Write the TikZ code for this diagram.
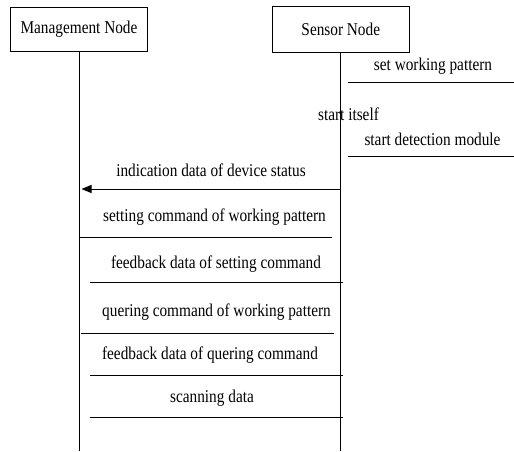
\documentclass[tikz,border=0pt]{standalone}
\usepackage{fontspec}
\setmainfont{Liberation Serif}[FakeStretch=0.85]
\usetikzlibrary{arrows.meta,positioning}

\begin{document}
\begin{tikzpicture}[x=1pt, y=-1pt,
  actor/.style={
    draw, rectangle, minimum width=137pt, minimum height=44pt,
    font=\fontsize{18}{20}\selectfont, line width=0.8pt
  },
  msgtext/.style={
    anchor=base, inner sep=0pt, font=\fontsize{18}{20}\selectfont
  },
  msgline/.style={line width=1pt},
  lifeline/.style={line width=0.8pt}
]

\useasboundingbox (0,0) rectangle (514,451);

% Participants
\node[actor] (mgmt) at (79,29) {Management Node};
\node[actor, right=124pt of mgmt, minimum height=46pt] (sensor) {Sensor Node};

% Lifelines
\coordinate (bottom) at (0,451);
\draw[lifeline] (mgmt.south) -- (mgmt.south |- bottom);
\draw[lifeline] (sensor.south) -- (sensor.south |- bottom);

% Message texts
\node[msgtext] (m1) at (433,70)    {set working pattern};
\node[msgtext] (m2) at (348.5,120) {start itself};
\node[msgtext] (m3) at (432.5,145) {start detection module};
\node[msgtext] (m4) at (211,176)   {indication data of device status};
\node[msgtext] (m5) at (214.5,221) {setting command of working pattern};
\node[msgtext] (m6) at (216,268)   {feedback data of setting command};
\node[msgtext] (m7) at (216.5,316) {quering command of working pattern};
\node[msgtext] (m8) at (210,359)   {feedback data of quering command};
\node[msgtext] (m9) at (212,402)   {scanning data};

% Message lines under the texts
\foreach \n/\y/\xa/\xb in {1/82/348/514, 3/156/348/514, 5/237/79/332,
                           6/282/90/343, 7/333/81/334, 8/375/90/343,
                           9/417/90/343} {
  \coordinate (a\n) at (\xa,\y);
  \coordinate (b\n) at (\xb,\y);
  \draw[msgline] (a\n) -- (b\n);
}

% Status report back to the management node
\coordinate (a4) at (340,189);
\coordinate (b4) at (81.5,189);
\draw[msgline, -{Triangle[length=10pt,width=8pt]}] (a4) -- (b4);

\end{tikzpicture}
\end{document}
